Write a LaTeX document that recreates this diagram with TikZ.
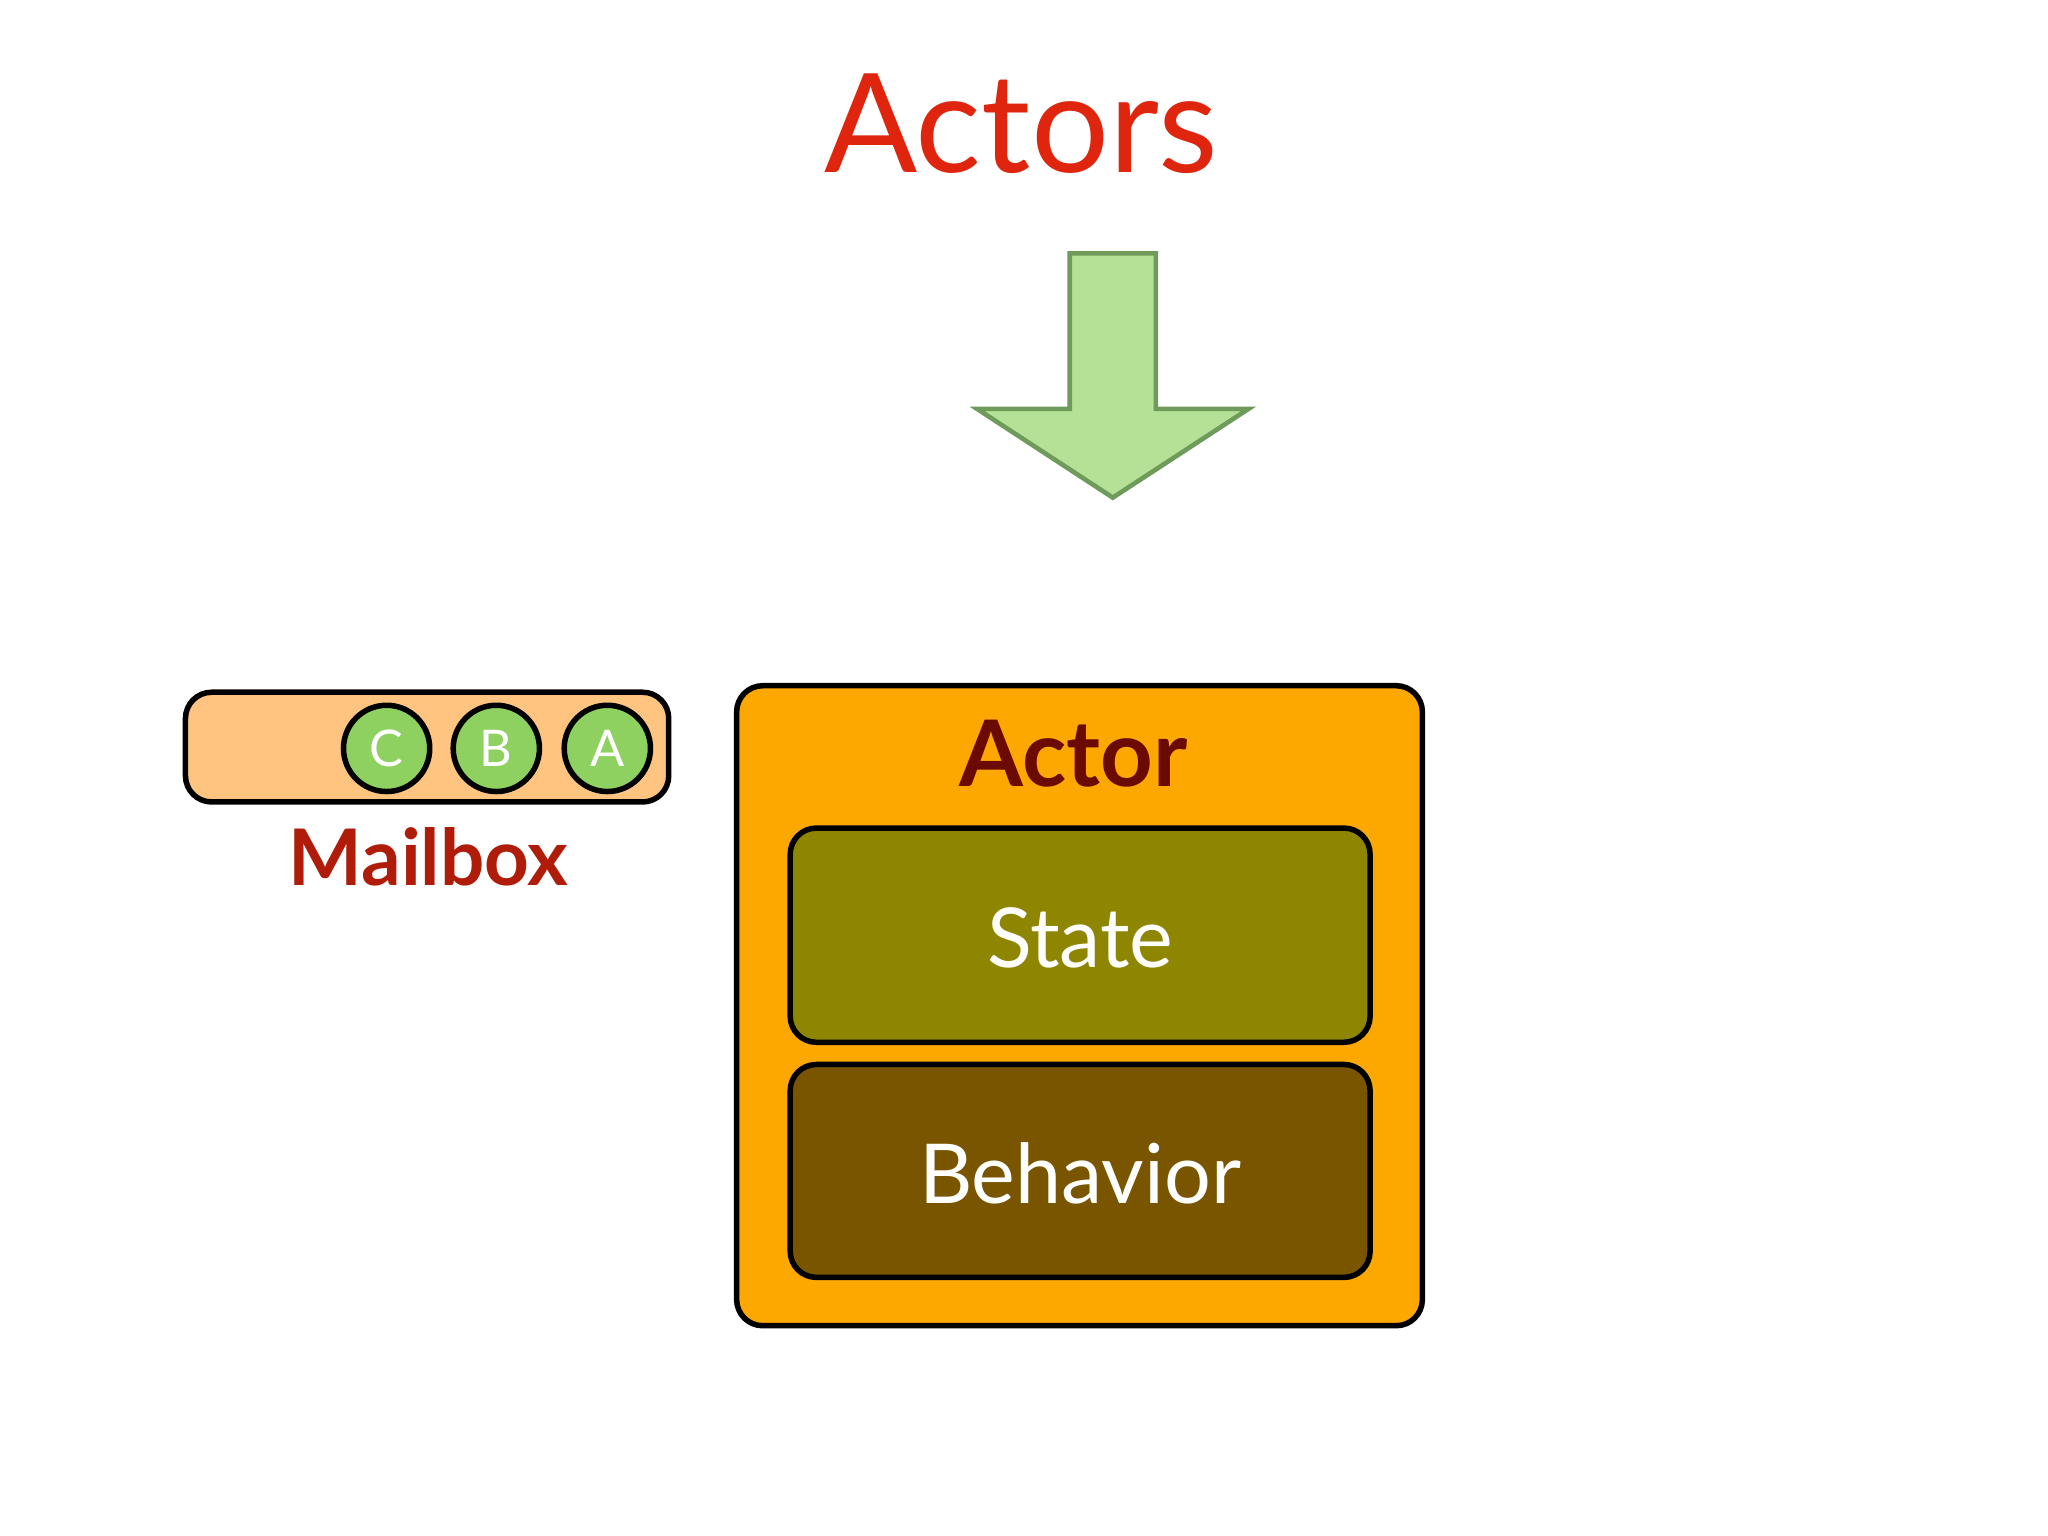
\documentclass[tikz,border=0pt]{standalone}
\usepackage{fontspec}
\setmainfont{Lato}
\definecolor{titlered}{HTML}{E0250F}
\definecolor{arrowfill}{HTML}{B5E196}
\definecolor{arrowline}{HTML}{6E9A5A}
\definecolor{mailfill}{HTML}{FFC580}
\definecolor{msgfill}{HTML}{8FD160}
\definecolor{actorfill}{HTML}{FCA800}
\definecolor{actortext}{HTML}{6B0A00}
\definecolor{statefill}{HTML}{8E8500}
\definecolor{behavfill}{HTML}{795500}
\definecolor{mailtext}{HTML}{B01C0A}
\begin{document}
\begin{tikzpicture}[x=0.01cm,y=-0.01cm,
  box/.style={draw=black,line width=1.2pt,rounded corners=0.2cm},
  msg/.style={circle,draw=black,line width=1.2pt,fill=msgfill,minimum size=0.66cm,inner sep=0pt,text=white,font=\fontsize{11}{13}\selectfont}]
\useasboundingbox (0,0) rectangle (1568,1176);
\node[text=titlered,font=\fontsize{30}{36}\selectfont] (title) at (782,95) {Actors};
\draw[fill=arrowfill,draw=arrowline,line width=1pt] (819,194) -- (885,194) -- (885,313) -- (956,313) -- (852,381) -- (748,313) -- (819,313) -- cycle;
\node[coordinate] (arrowtip) at (852,381) {};
\draw[box,fill=mailfill] (142,530) rectangle (512,614);
\node[msg] (c) at (296,573) {C};
\node[msg] (b) at (380,573) {B};
\node[msg] (a) at (465,573) {A};
\node[text=mailtext,font=\bfseries\fontsize{17}{20}\selectfont] (mailbox) at (328,656) {Mailbox};
\draw[box,fill=actorfill] (564,525) rectangle (1089,1015);
\node[text=actortext,font=\bfseries\fontsize{20}{24}\selectfont] (actor) at (822,577) {Actor};
\draw[box,fill=statefill] (605,634) rectangle (1049,798);
\node[text=white,font=\fontsize{18}{22}\selectfont] (state) at (827,718) {State};
\draw[box,fill=behavfill] (605,815) rectangle (1049,978);
\node[text=white,font=\fontsize{18}{22}\selectfont] (behavior) at (827,898) {Behavior};
\end{tikzpicture}
\end{document}
